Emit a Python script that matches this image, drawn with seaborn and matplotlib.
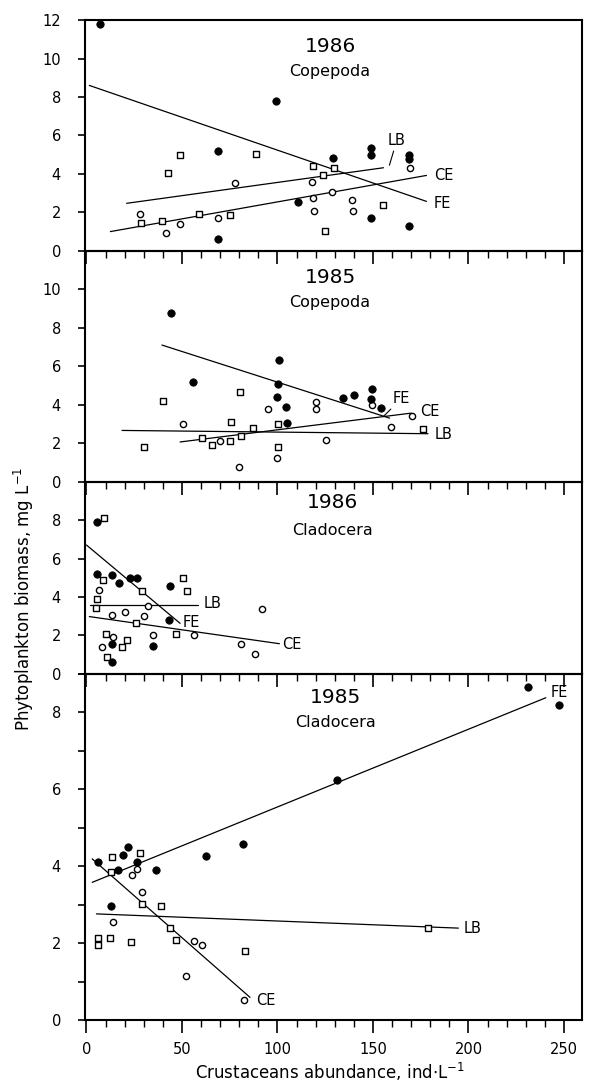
import numpy as np
import matplotlib
matplotlib.use("Agg")
import matplotlib.pyplot as plt
from matplotlib.ticker import MultipleLocator
import seaborn as sns

# ---------------- data ----------------
# x: crustaceans abundance (ind/L), y: phytoplankton biomass (mg/L)
# FE = filled circles, CE = open circles, LB = open squares

# 1986, Copepoda
cop86_fe_x = [7, 99, 69, 69, 111, 129, 149, 149, 149, 169, 169, 169]
cop86_fe_y = [11.8, 7.8, 5.2, 0.6, 2.55, 4.85, 5.35, 5.0, 1.7, 5.0, 4.8, 1.3]
cop86_ce_x = [28, 41.5, 49, 69, 78, 118.2, 118.7, 119.3, 128.4, 139.2, 139.7, 169.4]
cop86_ce_y = [1.93, 0.94, 1.38, 1.7, 3.52, 3.57, 2.75, 2.05, 3.06, 2.62, 2.08, 4.29]
cop86_lb_x = [28.5, 39.5, 42.5, 49, 59, 75, 88.5, 118.5, 124, 129.5, 155.5, 125]
cop86_lb_y = [1.43, 1.57, 4.04, 4.97, 1.94, 1.87, 5.02, 4.41, 3.92, 4.29, 2.36, 1.03]
cop86_fit_fe = ([1.5, 178], [8.6, 2.57])
cop86_fit_ce = ([12.5, 178], [1.0, 3.92])
cop86_fit_lb = ([21, 155.5], [2.47, 4.32])

# 1985, Copepoda
cop85_fe_x = [44.2, 55.6, 100.9, 100.1, 99.6, 104.3, 105.1, 134.5, 140.2, 149.6, 149, 154]
cop85_fe_y = [8.77, 5.2, 6.32, 5.06, 4.39, 3.9, 3.07, 4.35, 4.52, 4.82, 4.28, 3.85]
cop85_ce_x = [50.4, 70, 80.1, 94.9, 99.9, 120.4, 120.4, 125.3, 149.5, 159.6, 170.4]
cop85_ce_y = [3.0, 2.09, 0.76, 3.77, 1.22, 4.15, 3.8, 2.18, 3.97, 2.83, 3.42]
cop85_lb_x = [29.9, 40, 60.4, 65.6, 75.2, 75.5, 80.4, 80.9, 87, 100.1, 100.4, 176.1]
cop85_lb_y = [1.78, 4.2, 2.26, 1.88, 2.09, 3.09, 4.68, 2.35, 2.78, 2.99, 1.8, 2.73]
cop85_fit_fe = ([39.5, 158.7], [7.1, 3.3])
cop85_fit_ce = ([49, 170], [2.06, 3.56])
cop85_fit_lb = ([18.6, 178.8], [2.66, 2.49])

# 1986, Cladocera
cla86_fe_x = [5.7, 5.7, 13.2, 17, 22.8, 26.6, 43.7, 43.4, 13.5, 34.7, 13.5]
cla86_fe_y = [7.92, 5.22, 5.13, 4.71, 5.01, 4.97, 4.57, 2.8, 1.57, 1.43, 0.6]
cla86_ce_x = [6.7, 13.2, 20.2, 32, 30.3, 14, 8.3, 34.7, 56.4, 80.9, 88.2, 91.7]
cla86_ce_y = [4.35, 3.07, 3.23, 3.51, 3.02, 1.92, 1.39, 2.01, 2.01, 1.53, 1.04, 3.39]
cla86_lb_x = [9.2, 8.8, 5.3, 5, 28.9, 50.7, 52.4, 26, 10.2, 21.1, 18.4, 10.9, 46.8]
cla86_lb_y = [8.1, 4.87, 3.92, 3.42, 4.3, 5.01, 4.3, 2.66, 2.05, 1.75, 1.39, 0.9, 2.06]
cla86_fit_fe = ([0, 49], [6.7, 2.63])
cla86_fit_ce = ([1.5, 101], [2.98, 1.57])
cla86_fit_lb = ([2, 58.5], [3.6, 3.6])

# 1985, Cladocera
cla85_fe_x = [6.2, 12.7, 16.6, 19, 21.6, 26.6, 36.4, 62.4, 82.1, 131.3, 231.3, 247.5]
cla85_fe_y = [4.12, 2.97, 3.91, 4.3, 4.49, 4.12, 3.89, 4.27, 4.58, 6.25, 8.65, 8.18]
cla85_ce_x = [14, 24, 26.3, 29.1, 56.4, 60.3, 52.1, 82.5]
cla85_ce_y = [2.56, 3.78, 3.92, 3.33, 2.06, 1.95, 1.15, 0.51]
cla85_lb_x = [6.2, 6.2, 12.3, 13.5, 12.8, 23.1, 28, 29.1, 39, 43.7, 46.7, 83, 178.8]
cla85_lb_y = [2.13, 1.95, 2.14, 4.24, 3.85, 2.04, 4.34, 3.01, 2.97, 2.4, 2.08, 1.8, 2.4]
cla85_fit_fe = ([3, 240.5], [3.58, 8.38])
cla85_fit_ce = ([3, 85.6], [4.19, 0.59])
cla85_fit_lb = ([5.2, 194.7], [2.76, 2.39])

years = ["1986", "1985", "1986", "1985"]
taxa = ["Copepoda", "Copepoda", "Cladocera", "Cladocera"]
x_ticks = [0, 50, 100, 150, 200, 250]

# ---------------- style ----------------
sns.set_theme(style="ticks")
plt.rcParams["font.family"] = ["DejaVu Sans"]
plt.rcParams["axes.linewidth"] = 1.5
plt.rcParams["text.color"] = "black"
plt.rcParams["axes.labelcolor"] = "black"
plt.rcParams["xtick.color"] = "black"
plt.rcParams["ytick.color"] = "black"

marker_style = {
    "FE": dict(marker="o", s=28, color="black", edgecolor="black", linewidth=0.6),
    "CE": dict(marker="o", s=20, color="white", edgecolor="black", linewidth=1.0),
    "LB": dict(marker="s", s=20, color="white", edgecolor="black", linewidth=1.0),
}

panels = [
    dict(pts={"FE": (cop86_fe_x, cop86_fe_y), "CE": (cop86_ce_x, cop86_ce_y), "LB": (cop86_lb_x, cop86_lb_y)},
         fits=[cop86_fit_fe, cop86_fit_ce, cop86_fit_lb],
         ylim=12, yticks=[0, 2, 4, 6, 8, 10, 12], ylabels=None,
         title_xy=(127.5, 10.6, 9.3),
         labels=[("CE", 182, 3.9), ("FE", 182, 2.48)],
         leader=("LB", (158.6, 4.45), (162.5, 5.75))),
    dict(pts={"FE": (cop85_fe_x, cop85_fe_y), "CE": (cop85_ce_x, cop85_ce_y), "LB": (cop85_lb_x, cop85_lb_y)},
         fits=[cop85_fit_fe, cop85_fit_ce, cop85_fit_lb],
         ylim=12, yticks=[0, 2, 4, 6, 8, 10], ylabels=None,
         title_xy=(127.5, 10.6, 9.33),
         labels=[("CE", 174.6, 3.64), ("LB", 182.5, 2.43)],
         leader=("FE", (155.4, 3.38), (165, 4.33))),
    dict(pts={"FE": (cla86_fe_x, cla86_fe_y), "CE": (cla86_ce_x, cla86_ce_y), "LB": (cla86_lb_x, cla86_lb_y)},
         fits=[cla86_fit_fe, cla86_fit_ce, cla86_fit_lb],
         ylim=10, yticks=[0, 2, 4, 6, 8], ylabels=None,
         title_xy=(128.7, 8.89, 7.48),
         labels=[("LB", 61.2, 3.65), ("FE", 50.3, 2.66), ("CE", 102.2, 1.53)],
         leader=None),
    dict(pts={"FE": (cla85_fe_x, cla85_fe_y), "CE": (cla85_ce_x, cla85_ce_y), "LB": (cla85_lb_x, cla85_lb_y)},
         fits=[cla85_fit_fe, cla85_fit_ce, cla85_fit_lb],
         ylim=9, yticks=list(range(0, 10)),
         ylabels=[str(v) if v % 2 == 0 else "" for v in range(0, 10)],
         title_xy=(130.6, 8.38, 7.74),
         labels=[("FE", 243, 8.52), ("LB", 197.5, 2.37), ("CE", 88.7, 0.52)],
         leader=None),
]

fig = plt.figure(figsize=(5.94, 10.84), dpi=100)
gs = fig.add_gridspec(4, 1, height_ratios=[12, 12, 10, 18], hspace=0,
                      left=0.1424, right=0.98, top=0.9815, bottom=0.059)

for i, p in enumerate(panels):
    ax = fig.add_subplot(gs[i])
    # transparent background so the ticks of the panel above stay visible
    ax.patch.set_visible(False)

    # regression lines
    for fx, fy in p["fits"]:
        sns.lineplot(x=np.array(fx), y=np.array(fy), color="black", linewidth=0.9,
                     ax=ax, zorder=2)

    # observations
    for key in ["LB", "CE", "FE"]:
        xs, ys = p["pts"][key]
        sns.scatterplot(x=np.array(xs), y=np.array(ys), ax=ax, zorder=3,
                        legend=False, **marker_style[key])

    ax.set_xlim(-1, 259.5)
    ax.set_ylim(0, p["ylim"])
    ax.set_xticks(x_ticks)
    ax.xaxis.set_minor_locator(MultipleLocator(10))
    ax.set_yticks(p["yticks"])
    if p["ylabels"] is not None:
        ax.set_yticklabels(p["ylabels"])
    ax.yaxis.set_minor_locator(plt.NullLocator())

    for side in ["left", "right", "top", "bottom"]:
        ax.spines[side].set_visible(True)
        ax.spines[side].set_linewidth(1.5)
        ax.spines[side].set_color("black")

    ax.tick_params(axis="y", which="major", direction="out", length=5, width=1.2,
                   pad=12, labelsize=10.5, colors="black", left=True, right=False)

    last = i == len(panels) - 1
    ax.tick_params(axis="x", which="major", direction="out", length=9.5, width=1.2,
                   colors="black", labelsize=10.5, pad=6)
    ax.tick_params(axis="x", which="minor", direction="out", length=5, width=1.0,
                   colors="black")
    ax.tick_params(axis="x", which="both", bottom=True, labelbottom=last,
                   top=False, labeltop=False)
    ax.set_xlabel("")
    ax.set_ylabel("")

    # panel heading
    tx, ty1, ty2 = p["title_xy"]
    ax.text(tx, ty1, years[i], ha="center", va="center", fontsize=14.5, color="black")
    ax.text(tx, ty2, taxa[i], ha="center", va="center", fontsize=11.5, color="black")

    for name, lx, ly in p["labels"]:
        ax.text(lx, ly, name, ha="left", va="center", fontsize=10.5, color="black")
    if p["leader"] is not None:
        name, xy, xyt = p["leader"]
        ax.annotate(name, xy=xy, xytext=xyt, ha="center", va="center", fontsize=10.5,
                    color="black",
                    arrowprops=dict(arrowstyle="-", color="black", lw=0.8,
                                    shrinkA=0, shrinkB=0))

fig.text(0.040, 0.448, "Phytoplankton biomass, mg L$^{-1}$", rotation=90,
         ha="center", va="center", fontsize=12, color="black")
fig.text(0.556, 0.011, "Crustaceans abundance, ind$\\cdot$L$^{-1}$",
         ha="center", va="center", fontsize=12, color="black")

fig.savefig("out.png", dpi=100, facecolor="white")
